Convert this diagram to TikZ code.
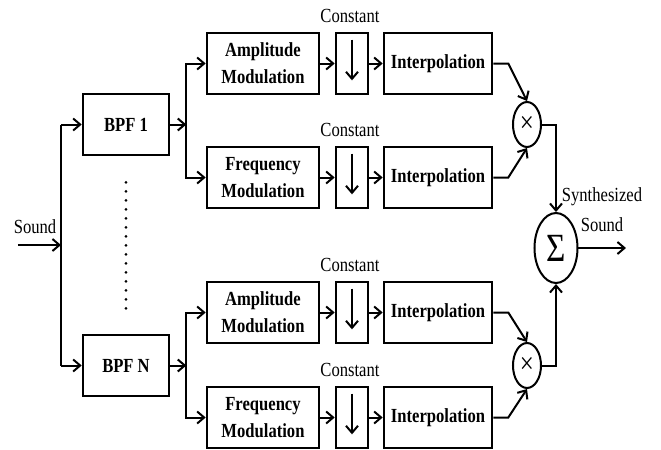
\documentclass[tikz,border=0pt]{standalone}
\usepackage{fontspec}
\setmainfont[FakeStretch=0.83]{Liberation Serif}
\usetikzlibrary{shapes.geometric}
\usetikzlibrary{arrows.meta}

\begin{document}
\begin{tikzpicture}[x=0.5pt, y=-0.5pt, line width=1pt, >={Straight Barb[length=3.5pt,width=6pt]},
  every node/.style={font=\fontsize{10}{13.5}\selectfont},
  blk/.style={draw, line width=1.3pt, rectangle, minimum height=30.5pt, inner sep=0pt, align=center, font=\fontsize{10}{13.5}\selectfont\bfseries},
  mul/.style={draw, ellipse, inner sep=0pt, minimum width=14pt, minimum height=22.5pt, font=\fontsize{15}{15}\selectfont}]
  \useasboundingbox (0,0) rectangle (661,450);
  \node[blk, minimum width=43pt] (bpf1) at (126,124.5) {BPF 1};
  \node[blk, minimum width=43pt] (bpfN) at (126,365.5) {BPF N};
  \foreach \i/\y/\lab in {1/63.5/Amplitude, 2/177.5/Frequency, 3/312.5/Amplitude, 4/417.5/Frequency} {
    \node[blk, minimum width=56pt] (mod\i) at (263,\y) {\lab\\Modulation};
    \node[blk, minimum width=16pt] (dn\i) at (352,\y) {};
    \node[blk, minimum width=54pt] (int\i) at (438,\y) {Interpolation};
    \node (const\i) at (350,\y-48) {Constant};
    \draw[->] (mod\i) -- (dn\i);
    \draw[->] (dn\i) -- (int\i);
    \draw[->] ([yshift=-4pt]dn\i.north) -- ([yshift=7.5pt]dn\i.south);
  }
  \node[mul] (m1) at (527,124.5) {×};
  \node[mul] (m2) at (527,365.5) {×};
  \node[draw, ellipse, inner sep=0pt, minimum width=21.5pt, minimum height=35pt, font=\fontsize{20}{20}\selectfont] (sum) at (556,248) {Σ};
  % sound in
  \coordinate (in) at (18,245);
  \coordinate (split) at (61,245);
  \node (sndin) at (35,227) {Sound};
  \draw[->] (in) -- (split);
  \draw (split |- bpf1) -- (split |- bpfN);
  \draw[->] (split |- bpf1) -- (bpf1);
  \draw[->] (split |- bpfN) -- (bpfN);
  \draw[line width=1.5pt, line cap=round, dash pattern=on 0pt off 4.5pt] ([yshift=-13pt]bpf1.south) -- ([yshift=9pt]bpfN.north);
  % filter banks
  \draw[->] (bpf1.east) -- ++(16,0) coordinate (s1);
  \draw[->] (s1) |- (mod1);
  \draw[->] (s1) |- (mod2);
  \draw[->] (bpfN.east) -- ++(16,0) coordinate (sN);
  \draw[->] (sN) |- (mod3);
  \draw[->] (sN) |- (mod4);
  % products and sum
  \draw[->] (int1.east) -- ++(15,0) -- (m1.north);
  \draw[->] (int2.east) -- ++(15,0) -- (m1.south);
  \draw[->] (int3.east) -- ++(15,0) -- (m2.north);
  \draw[->] (int4.east) -- ++(15,0) -- (m2.south);
  \draw[->] (m1.east) -| (sum.north);
  \draw[->] (m2.east) -| (sum.south);
  \coordinate (out) at (626,248);
  \draw[->] (sum) -- (out);
  \node (syn) at (602,197) {Synthesized};
  \node (sndout) at (602,225) {Sound};
\end{tikzpicture}
\end{document}
